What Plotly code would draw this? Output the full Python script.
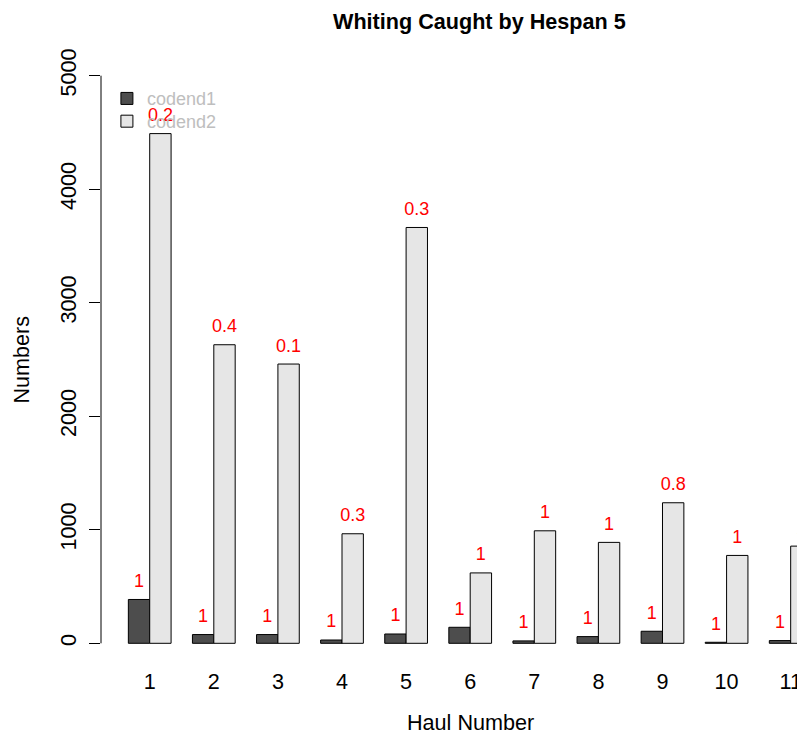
import plotly.graph_objects as go

# dados
hauls = [1, 2, 3, 4, 5, 6, 7, 8, 9, 10, 11]
codend1 = [386, 77, 77, 29, 82, 141, 21, 59, 106, 9, 24]
codend2 = [4490, 2630, 2460, 965, 3663, 620, 991, 889, 1238, 774, 856]
ratio1 = ["1", "1", "1", "1", "1", "1", "1", "1", "1", "1", "1"]
ratio2 = ["0.2", "0.4", "0.1", "0.3", "0.3", "1", "1", "1", "0.8", "1", "1"]
y_ticks = [0, 1000, 2000, 3000, 4000, 5000]

FONT = "Liberation Sans, Arial, sans-serif"

# posições tipo barplot(beside=TRUE) do R: cada grupo ocupa 3 unidades
x1 = [3 * h - 1.5 for h in hauls]
x2 = [3 * h - 0.5 for h in hauls]
x_mid = [3 * h - 1 for h in hauls]
label_off = 150

fig = go.Figure()

fig.add_trace(go.Bar(
    x=x1, y=codend1, width=1, name="codend1", legend="legend",
    marker=dict(color="#4D4D4D", line=dict(color="black", width=1)),
))
fig.add_trace(go.Bar(
    x=x2, y=codend2, width=1, name="codend2", legend="legend2",
    marker=dict(color="#E6E6E6", line=dict(color="black", width=1)),
))

# rótulos vermelhos acima das barras
fig.add_trace(go.Scatter(
    x=x1 + x2,
    y=[v + label_off for v in codend1 + codend2],
    text=ratio1 + ratio2,
    mode="text",
    textfont=dict(color="red", size=18, family=FONT),
    showlegend=False, hoverinfo="skip",
))

fig.update_xaxes(
    range=[-0.28, 32.67],
    tickvals=x_mid, ticktext=[str(h) for h in hauls],
    ticks="", showline=False, showgrid=False, zeroline=False,
    tickfont=dict(size=21.6, color="black", family=FONT),
)

fig.update_yaxes(
    range=[-200, 5200],
    tickvals=y_ticks, ticktext=[str(v) for v in y_ticks],
    tickangle=-90,
    ticks="outside", ticklen=11, tickcolor="black", tickwidth=1,
    ticklabelstandoff=4,
    showline=False, showgrid=False, zeroline=False,
    tickfont=dict(size=21.6, color="black", family=FONT),
)

# eixo y só de 0 a 5000, como no R
fig.add_shape(type="line", xref="paper", yref="y", x0=0, x1=0,
              y0=y_ticks[0], y1=y_ticks[-1], line=dict(color="black", width=1))

fig.add_annotation(text="<b>Whiting Caught by Hespan 5</b>", xref="paper", yref="paper",
                   x=0.538, y=1.0516, showarrow=False, xanchor="center", yanchor="middle",
                   font=dict(size=21.6, color="black", family=FONT))
fig.add_annotation(text="Haul Number", xref="x", yref="paper",
                   x=17, y=-0.092, showarrow=False, xanchor="center", yanchor="middle",
                   font=dict(size=21.6, color="black", family=FONT))
fig.add_annotation(text="Numbers", xref="paper", yref="paper",
                   x=0, y=0.5, xshift=-80, showarrow=False, textangle=-90,
                   xanchor="center", yanchor="middle",
                   font=dict(size=21.6, color="black", family=FONT))

leg = dict(x=0.0084, xanchor="left", yanchor="middle", bgcolor="rgba(0,0,0,0)",
           font=dict(size=18, color="#BEBEBE", family=FONT))

# a página tem 8px de margem no body: figura um pouco menor
fig.update_layout(
    width=797, height=728,
    margin=dict(l=93, r=0, t=45, b=70),
    plot_bgcolor="white", paper_bgcolor="white",
    barmode="overlay",
    showlegend=True,
    legend=dict(leg, y=0.9254),
    legend2=dict(leg, y=0.8883),
    font=dict(family=FONT),
)

fig.write_html("out.html")
